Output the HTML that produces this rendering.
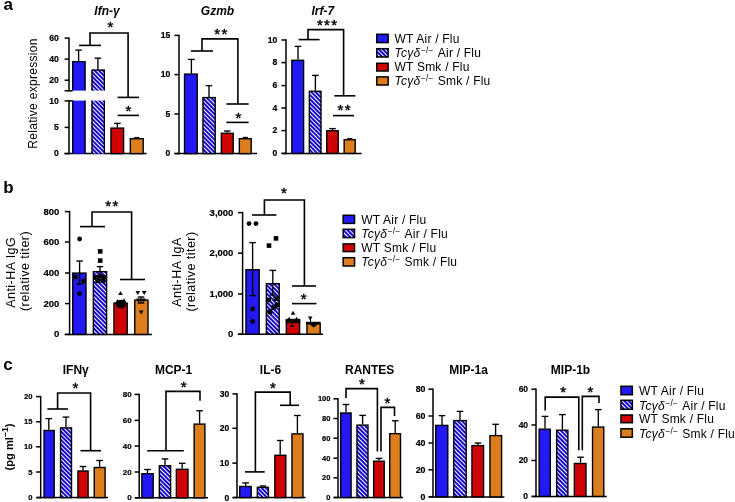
<!DOCTYPE html>
<html><head><meta charset="utf-8"><title>Figure</title>
<style>
html,body{margin:0;padding:0;background:#fff;}
body{width:735px;height:502px;overflow:hidden;}
svg{display:block;font-family:"Liberation Sans", sans-serif;will-change:transform;}
text{fill:#000;}
</style></head>
<body>
<svg width="735" height="502" viewBox="0 0 735 502">
<defs>
<pattern id="hatch" patternUnits="userSpaceOnUse" width="3" height="3" patternTransform="rotate(-45)">
<rect width="3" height="3" fill="#1608cc"/>
<rect x="0" y="0" width="1" height="3" fill="#fff"/>
</pattern>
</defs>
<rect width="735" height="502" fill="#fff"/>
<text x="3.4" y="10.3" font-size="17" font-weight="bold" font-style="normal" text-anchor="start" >a</text>
<text x="3.2" y="192.6" font-size="17" font-weight="bold" font-style="normal" text-anchor="start" >b</text>
<text x="3.2" y="369.6" font-size="17" font-weight="bold" font-style="normal" text-anchor="start" >c</text>
<text x="107" y="14.7" font-size="12" font-weight="bold" font-style="italic" text-anchor="middle" >Ifn-γ</text>
<text transform="translate(36.8,93.5) rotate(-90)" font-size="12" font-weight="normal" text-anchor="middle" letter-spacing="0.3">Relative expression</text>
<line x1="69" y1="37.4" x2="69" y2="91.5" stroke="#000" stroke-width="1.5"/>
<line x1="64.6" y1="38.1" x2="69" y2="38.1" stroke="#000" stroke-width="1.5"/>
<text x="58.8" y="40.98" font-size="8.6" font-weight="bold" font-style="normal" text-anchor="end" stroke="#000" stroke-width="0.2">60</text>
<line x1="64.6" y1="59.1" x2="69" y2="59.1" stroke="#000" stroke-width="1.5"/>
<text x="58.8" y="61.98" font-size="8.6" font-weight="bold" font-style="normal" text-anchor="end" stroke="#000" stroke-width="0.2">40</text>
<line x1="64.6" y1="80.2" x2="69" y2="80.2" stroke="#000" stroke-width="1.5"/>
<text x="58.8" y="83.08" font-size="8.6" font-weight="bold" font-style="normal" text-anchor="end" stroke="#000" stroke-width="0.2">20</text>
<line x1="64.6" y1="90.8" x2="72.6" y2="90.8" stroke="#000" stroke-width="1.5"/>
<line x1="69" y1="100.2" x2="69" y2="154.3" stroke="#000" stroke-width="1.5"/>
<line x1="64.6" y1="100.9" x2="72.6" y2="100.9" stroke="#000" stroke-width="1.5"/>
<text x="58.8" y="103.78" font-size="8.6" font-weight="bold" font-style="normal" text-anchor="end" stroke="#000" stroke-width="0.2">10</text>
<line x1="64.6" y1="127.4" x2="69" y2="127.4" stroke="#000" stroke-width="1.5"/>
<text x="58.8" y="130.28" font-size="8.6" font-weight="bold" font-style="normal" text-anchor="end" stroke="#000" stroke-width="0.2">5</text>
<line x1="64.6" y1="153.6" x2="69" y2="153.6" stroke="#000" stroke-width="1.5"/>
<text x="58.8" y="156.48" font-size="8.6" font-weight="bold" font-style="normal" text-anchor="end" stroke="#000" stroke-width="0.2">0</text>
<line x1="64.6" y1="153.6" x2="146.5" y2="153.6" stroke="#000" stroke-width="1.5"/>
<rect x="72" y="61" width="13.6" height="29.6" fill="#2219f4"/>
<rect x="72" y="100.6" width="13.6" height="53" fill="#2219f4"/>
<path d="M72.65,90.6 V61.65 H84.95 V90.6 M72.65,100.6 V153.6 M84.95,100.6 V153.6" fill="none" stroke="#000" stroke-width="1.3"/>
<rect x="91.4" y="69.4" width="13.6" height="21.2" fill="url(#hatch)"/>
<rect x="91.4" y="100.6" width="13.6" height="53" fill="url(#hatch)"/>
<path d="M92.05,90.6 V70.05 H104.35 V90.6 M92.05,100.6 V153.6 M104.35,100.6 V153.6" fill="none" stroke="#000" stroke-width="1.3"/>
<rect x="110.95" y="128.1" width="12.65" height="25.5" fill="#cf0303" stroke="#000" stroke-width="1.4"/>
<rect x="130.35" y="138.7" width="12.85" height="14.9" fill="#dc7d1e" stroke="#000" stroke-width="1.4"/>
<line x1="78.6" y1="50.1" x2="78.6" y2="61" stroke="#000" stroke-width="1.35"/>
<line x1="75.3" y1="50.1" x2="81.9" y2="50.1" stroke="#000" stroke-width="1.35"/>
<line x1="97.9" y1="58.2" x2="97.9" y2="69.4" stroke="#000" stroke-width="1.35"/>
<line x1="94.6" y1="58.2" x2="101.2" y2="58.2" stroke="#000" stroke-width="1.35"/>
<line x1="117.4" y1="123.4" x2="117.4" y2="127.4" stroke="#000" stroke-width="1.35"/>
<line x1="114.1" y1="123.4" x2="120.7" y2="123.4" stroke="#000" stroke-width="1.35"/>
<line x1="136.8" y1="137.6" x2="136.8" y2="138" stroke="#000" stroke-width="1.35"/>
<line x1="134.3" y1="137.6" x2="139.3" y2="137.6" stroke="#000" stroke-width="1.35"/>
<polyline points="79.1,45.4 101,45.4" fill="none" stroke="#000" stroke-width="1.6" stroke-linejoin="miter" stroke-linecap="butt"/>
<polyline points="90,45.4 90,33 128.1,33 128.1,97.4" fill="none" stroke="#000" stroke-width="1.6" stroke-linejoin="miter" stroke-linecap="butt"/>
<polyline points="117.6,97.4 139,97.4" fill="none" stroke="#000" stroke-width="1.6" stroke-linejoin="miter" stroke-linecap="butt"/>
<text x="110.3" y="32.38" font-size="15" text-anchor="middle" stroke="#000" stroke-width="0.45">*</text>
<polyline points="117.6,115.4 139,115.4" fill="none" stroke="#000" stroke-width="1.6" stroke-linejoin="miter" stroke-linecap="butt"/>
<text x="128.5" y="115.67" font-size="15" text-anchor="middle" stroke="#000" stroke-width="0.45">*</text>
<text x="217.5" y="14.7" font-size="12" font-weight="bold" font-style="italic" text-anchor="middle" >Gzmb</text>
<line x1="179" y1="34.65" x2="179" y2="154.35" stroke="#000" stroke-width="1.5"/>
<line x1="174.4" y1="35.4" x2="179" y2="35.4" stroke="#000" stroke-width="1.5"/>
<text x="170.3" y="38.28" font-size="8.6" font-weight="bold" font-style="normal" text-anchor="end"  stroke="#000" stroke-width="0.2">15</text>
<line x1="174.4" y1="74.6" x2="179" y2="74.6" stroke="#000" stroke-width="1.5"/>
<text x="170.3" y="77.48" font-size="8.6" font-weight="bold" font-style="normal" text-anchor="end"  stroke="#000" stroke-width="0.2">10</text>
<line x1="174.4" y1="114" x2="179" y2="114" stroke="#000" stroke-width="1.5"/>
<text x="170.3" y="116.88" font-size="8.6" font-weight="bold" font-style="normal" text-anchor="end"  stroke="#000" stroke-width="0.2">5</text>
<line x1="174.4" y1="153.6" x2="179" y2="153.6" stroke="#000" stroke-width="1.5"/>
<text x="170.3" y="156.48" font-size="8.6" font-weight="bold" font-style="normal" text-anchor="end"  stroke="#000" stroke-width="0.2">0</text>
<line x1="174.4" y1="153.6" x2="257" y2="153.6" stroke="#000" stroke-width="1.5"/>
<rect x="184.55" y="74.1" width="12.65" height="79.5" fill="#2219f4" stroke="#000" stroke-width="1.4"/>
<rect x="202.95" y="97.6" width="12.25" height="56" fill="url(#hatch)" stroke="#000" stroke-width="1.4"/>
<rect x="221.35" y="133.3" width="11.85" height="20.3" fill="#cf0303" stroke="#000" stroke-width="1.4"/>
<rect x="239.35" y="138.7" width="11.85" height="14.9" fill="#dc7d1e" stroke="#000" stroke-width="1.4"/>
<line x1="191.4" y1="59.4" x2="191.4" y2="73.6" stroke="#000" stroke-width="1.35"/>
<line x1="188.1" y1="59.4" x2="194.7" y2="59.4" stroke="#000" stroke-width="1.35"/>
<line x1="209" y1="85.6" x2="209" y2="96.9" stroke="#000" stroke-width="1.35"/>
<line x1="205.7" y1="85.6" x2="212.3" y2="85.6" stroke="#000" stroke-width="1.35"/>
<line x1="227.3" y1="131" x2="227.3" y2="132.6" stroke="#000" stroke-width="1.35"/>
<line x1="224" y1="131" x2="230.6" y2="131" stroke="#000" stroke-width="1.35"/>
<line x1="245.3" y1="137.5" x2="245.3" y2="138" stroke="#000" stroke-width="1.35"/>
<line x1="242.8" y1="137.5" x2="247.8" y2="137.5" stroke="#000" stroke-width="1.35"/>
<polyline points="191,51 213,51" fill="none" stroke="#000" stroke-width="1.6" stroke-linejoin="miter" stroke-linecap="butt"/>
<polyline points="202,51 202,38.9 237.9,38.9 237.9,104" fill="none" stroke="#000" stroke-width="1.6" stroke-linejoin="miter" stroke-linecap="butt"/>
<polyline points="226.4,104 248.6,104" fill="none" stroke="#000" stroke-width="1.6" stroke-linejoin="miter" stroke-linecap="butt"/>
<text x="217.1" y="39.47" font-size="15" text-anchor="middle" stroke="#000" stroke-width="0.45">*</text>
<text x="224.3" y="39.47" font-size="15" text-anchor="middle" stroke="#000" stroke-width="0.45">*</text>
<polyline points="226.4,122.4 248.6,122.4" fill="none" stroke="#000" stroke-width="1.6" stroke-linejoin="miter" stroke-linecap="butt"/>
<text x="238.3" y="122.67" font-size="15" text-anchor="middle" stroke="#000" stroke-width="0.45">*</text>
<text x="322.8" y="14.7" font-size="12" font-weight="bold" font-style="italic" text-anchor="middle" >Irf-7</text>
<line x1="286" y1="39.25" x2="286" y2="154.15" stroke="#000" stroke-width="1.5"/>
<line x1="281.4" y1="40" x2="286" y2="40" stroke="#000" stroke-width="1.5"/>
<text x="277.3" y="42.88" font-size="8.6" font-weight="bold" font-style="normal" text-anchor="end"  stroke="#000" stroke-width="0.2">10</text>
<line x1="281.4" y1="62.6" x2="286" y2="62.6" stroke="#000" stroke-width="1.5"/>
<text x="277.3" y="65.48" font-size="8.6" font-weight="bold" font-style="normal" text-anchor="end"  stroke="#000" stroke-width="0.2">8</text>
<line x1="281.4" y1="85.6" x2="286" y2="85.6" stroke="#000" stroke-width="1.5"/>
<text x="277.3" y="88.48" font-size="8.6" font-weight="bold" font-style="normal" text-anchor="end"  stroke="#000" stroke-width="0.2">6</text>
<line x1="281.4" y1="108" x2="286" y2="108" stroke="#000" stroke-width="1.5"/>
<text x="277.3" y="110.88" font-size="8.6" font-weight="bold" font-style="normal" text-anchor="end"  stroke="#000" stroke-width="0.2">4</text>
<line x1="281.4" y1="130.6" x2="286" y2="130.6" stroke="#000" stroke-width="1.5"/>
<text x="277.3" y="133.48" font-size="8.6" font-weight="bold" font-style="normal" text-anchor="end"  stroke="#000" stroke-width="0.2">2</text>
<line x1="281.4" y1="153.4" x2="286" y2="153.4" stroke="#000" stroke-width="1.5"/>
<text x="277.3" y="156.28" font-size="8.6" font-weight="bold" font-style="normal" text-anchor="end"  stroke="#000" stroke-width="0.2">0</text>
<line x1="281.6" y1="153.4" x2="361.6" y2="153.4" stroke="#000" stroke-width="1.5"/>
<rect x="291.85" y="60.3" width="11.75" height="93.1" fill="#2219f4" stroke="#000" stroke-width="1.4"/>
<rect x="309.35" y="91.3" width="11.65" height="62.1" fill="url(#hatch)" stroke="#000" stroke-width="1.4"/>
<rect x="326.75" y="130.7" width="11.45" height="22.7" fill="#cf0303" stroke="#000" stroke-width="1.4"/>
<rect x="344.15" y="139.7" width="11.05" height="13.7" fill="#dc7d1e" stroke="#000" stroke-width="1.4"/>
<line x1="298" y1="46.4" x2="298" y2="59.6" stroke="#000" stroke-width="1.35"/>
<line x1="294.7" y1="46.4" x2="301.3" y2="46.4" stroke="#000" stroke-width="1.35"/>
<line x1="315.4" y1="75.4" x2="315.4" y2="90.6" stroke="#000" stroke-width="1.35"/>
<line x1="312.1" y1="75.4" x2="318.7" y2="75.4" stroke="#000" stroke-width="1.35"/>
<line x1="332.5" y1="128.6" x2="332.5" y2="130" stroke="#000" stroke-width="1.35"/>
<line x1="329.2" y1="128.6" x2="335.8" y2="128.6" stroke="#000" stroke-width="1.35"/>
<line x1="349.8" y1="138.6" x2="349.8" y2="139" stroke="#000" stroke-width="1.35"/>
<line x1="347.3" y1="138.6" x2="352.3" y2="138.6" stroke="#000" stroke-width="1.35"/>
<polyline points="298.6,39.6 319.6,39.6" fill="none" stroke="#000" stroke-width="1.6" stroke-linejoin="miter" stroke-linecap="butt"/>
<polyline points="308,39.6 308,29.6 343.6,29.6 343.6,95.8" fill="none" stroke="#000" stroke-width="1.6" stroke-linejoin="miter" stroke-linecap="butt"/>
<polyline points="334.4,95.8 355.4,95.8" fill="none" stroke="#000" stroke-width="1.6" stroke-linejoin="miter" stroke-linecap="butt"/>
<text x="319.8" y="29.98" font-size="15" text-anchor="middle" stroke="#000" stroke-width="0.45">*</text>
<text x="327" y="29.98" font-size="15" text-anchor="middle" stroke="#000" stroke-width="0.45">*</text>
<text x="334.2" y="29.98" font-size="15" text-anchor="middle" stroke="#000" stroke-width="0.45">*</text>
<polyline points="333,115.6 354,115.6" fill="none" stroke="#000" stroke-width="1.6" stroke-linejoin="miter" stroke-linecap="butt"/>
<text x="340.4" y="115.27" font-size="15" text-anchor="middle" stroke="#000" stroke-width="0.45">*</text>
<text x="347.6" y="115.27" font-size="15" text-anchor="middle" stroke="#000" stroke-width="0.45">*</text>
<rect x="376.75" y="34.3" width="11.4" height="8.3" fill="#2219f4" stroke="#000" stroke-width="1.5"/>
<text x="394.5" y="42.9" font-size="12" font-weight="normal" font-style="normal" text-anchor="start" letter-spacing="0.22">WT Air / Flu</text>
<rect x="376.75" y="48.7" width="11.4" height="8.3" fill="url(#hatch)" stroke="#000" stroke-width="1.5"/>
<text x="394.5" y="57.3" font-size="12" font-weight="normal" font-style="normal" text-anchor="start" letter-spacing="0.22"><tspan font-style="italic">Tcγδ</tspan><tspan font-size="8.4" dy="-4" dx="0.6">−/−</tspan><tspan dy="4" dx="0.6"> Air / Flu</tspan></text>
<rect x="376.75" y="63.3" width="11.4" height="7.7" fill="#cf0303" stroke="#000" stroke-width="1.5"/>
<text x="394.5" y="71.3" font-size="12" font-weight="normal" font-style="normal" text-anchor="start" letter-spacing="0.22">WT Smk / Flu</text>
<rect x="376.75" y="76.9" width="11.4" height="8.1" fill="#dc7d1e" stroke="#000" stroke-width="1.5"/>
<text x="394.5" y="85.3" font-size="12" font-weight="normal" font-style="normal" text-anchor="start" letter-spacing="0.22"><tspan font-style="italic">Tcγδ</tspan><tspan font-size="8.4" dy="-4" dx="0.6">−/−</tspan><tspan dy="4" dx="0.6"> Smk / Flu</tspan></text>
<text transform="translate(14.8,272.3) rotate(-90)" font-size="12.5" font-weight="normal" text-anchor="middle" letter-spacing="0.45">Anti-HA IgG</text>
<text transform="translate(28.9,271) rotate(-90)" font-size="12.5" font-weight="normal" text-anchor="middle" letter-spacing="0.45">(relative titer)</text>
<line x1="69.6" y1="210.85" x2="69.6" y2="335.15" stroke="#000" stroke-width="1.5"/>
<line x1="65" y1="211.6" x2="69.6" y2="211.6" stroke="#000" stroke-width="1.5"/>
<text x="59.4" y="214.5" font-size="9.5" font-weight="bold" font-style="normal" text-anchor="end"  stroke="#000" stroke-width="0.2">800</text>
<line x1="65" y1="242" x2="69.6" y2="242" stroke="#000" stroke-width="1.5"/>
<text x="59.4" y="244.9" font-size="9.5" font-weight="bold" font-style="normal" text-anchor="end"  stroke="#000" stroke-width="0.2">600</text>
<line x1="65" y1="273" x2="69.6" y2="273" stroke="#000" stroke-width="1.5"/>
<text x="59.4" y="275.9" font-size="9.5" font-weight="bold" font-style="normal" text-anchor="end"  stroke="#000" stroke-width="0.2">400</text>
<line x1="65" y1="303.6" x2="69.6" y2="303.6" stroke="#000" stroke-width="1.5"/>
<text x="59.4" y="306.5" font-size="9.5" font-weight="bold" font-style="normal" text-anchor="end"  stroke="#000" stroke-width="0.2">200</text>
<line x1="65" y1="334.4" x2="69.6" y2="334.4" stroke="#000" stroke-width="1.5"/>
<text x="59.4" y="337.3" font-size="9.5" font-weight="bold" font-style="normal" text-anchor="end"  stroke="#000" stroke-width="0.2">0</text>
<line x1="64.6" y1="334.4" x2="152" y2="334.4" stroke="#000" stroke-width="1.5"/>
<rect x="72.75" y="273.1" width="13.25" height="61.3" fill="#2219f4" stroke="#000" stroke-width="1.4"/>
<rect x="93.35" y="271.7" width="13.25" height="62.7" fill="url(#hatch)" stroke="#000" stroke-width="1.4"/>
<rect x="113.95" y="303.1" width="13.25" height="31.3" fill="#cf0303" stroke="#000" stroke-width="1.4"/>
<rect x="134.75" y="300.1" width="13.25" height="34.3" fill="#dc7d1e" stroke="#000" stroke-width="1.4"/>
<line x1="79.6" y1="261" x2="79.6" y2="284" stroke="#000" stroke-width="1.35"/>
<line x1="76.3" y1="261" x2="82.9" y2="261" stroke="#000" stroke-width="1.35"/>
<line x1="76.3" y1="284" x2="82.9" y2="284" stroke="#000" stroke-width="1.35"/>
<line x1="100" y1="266.6" x2="100" y2="276" stroke="#000" stroke-width="1.35"/>
<line x1="96.7" y1="266.6" x2="103.3" y2="266.6" stroke="#000" stroke-width="1.35"/>
<line x1="96.7" y1="276" x2="103.3" y2="276" stroke="#000" stroke-width="1.35"/>
<line x1="141" y1="297" x2="141" y2="303" stroke="#000" stroke-width="1.35"/>
<line x1="137.7" y1="297" x2="144.3" y2="297" stroke="#000" stroke-width="1.35"/>
<line x1="137.7" y1="303" x2="144.3" y2="303" stroke="#000" stroke-width="1.35"/>
<polyline points="80,226.6 105,226.6" fill="none" stroke="#000" stroke-width="1.6" stroke-linejoin="miter" stroke-linecap="butt"/>
<polyline points="92,226.6 92,212 131.6,212 131.6,279.5" fill="none" stroke="#000" stroke-width="1.6" stroke-linejoin="miter" stroke-linecap="butt"/>
<polyline points="120,279.5 145,279.5" fill="none" stroke="#000" stroke-width="1.6" stroke-linejoin="miter" stroke-linecap="butt"/>
<text x="108.1" y="210.88" font-size="15" text-anchor="middle" stroke="#000" stroke-width="0.45">*</text>
<text x="115.3" y="210.88" font-size="15" text-anchor="middle" stroke="#000" stroke-width="0.45">*</text>
<text transform="translate(180.7,272) rotate(-90)" font-size="12.5" font-weight="normal" text-anchor="middle" letter-spacing="0.45">Anti-HA IgA</text>
<text transform="translate(195.2,271.5) rotate(-90)" font-size="12.5" font-weight="normal" text-anchor="middle" letter-spacing="0.45">(relative titer)</text>
<line x1="242.6" y1="211.85" x2="242.6" y2="334.95" stroke="#000" stroke-width="1.5"/>
<line x1="238" y1="212.6" x2="242.6" y2="212.6" stroke="#000" stroke-width="1.5"/>
<text x="233.4" y="215.5" font-size="9.5" font-weight="bold" font-style="normal" text-anchor="end"  stroke="#000" stroke-width="0.2">3,000</text>
<line x1="238" y1="253.2" x2="242.6" y2="253.2" stroke="#000" stroke-width="1.5"/>
<text x="233.4" y="256.1" font-size="9.5" font-weight="bold" font-style="normal" text-anchor="end"  stroke="#000" stroke-width="0.2">2,000</text>
<line x1="238" y1="294" x2="242.6" y2="294" stroke="#000" stroke-width="1.5"/>
<text x="233.4" y="296.9" font-size="9.5" font-weight="bold" font-style="normal" text-anchor="end"  stroke="#000" stroke-width="0.2">1,000</text>
<line x1="238" y1="334.2" x2="242.6" y2="334.2" stroke="#000" stroke-width="1.5"/>
<text x="233.4" y="337.1" font-size="9.5" font-weight="bold" font-style="normal" text-anchor="end"  stroke="#000" stroke-width="0.2">0</text>
<line x1="237.8" y1="334.2" x2="323" y2="334.2" stroke="#000" stroke-width="1.5"/>
<rect x="245.95" y="269.7" width="13.25" height="64.5" fill="#2219f4" stroke="#000" stroke-width="1.4"/>
<rect x="266.35" y="283.7" width="12.85" height="50.5" fill="url(#hatch)" stroke="#000" stroke-width="1.4"/>
<rect x="286.35" y="320.1" width="13.25" height="14.1" fill="#cf0303" stroke="#000" stroke-width="1.4"/>
<rect x="306.95" y="323.3" width="13.25" height="10.9" fill="#dc7d1e" stroke="#000" stroke-width="1.4"/>
<line x1="252.6" y1="242.6" x2="252.6" y2="295.6" stroke="#000" stroke-width="1.35"/>
<line x1="249.3" y1="242.6" x2="255.9" y2="242.6" stroke="#000" stroke-width="1.35"/>
<line x1="249.3" y1="295.6" x2="255.9" y2="295.6" stroke="#000" stroke-width="1.35"/>
<line x1="272.8" y1="270.4" x2="272.8" y2="295" stroke="#000" stroke-width="1.35"/>
<line x1="269.5" y1="270.4" x2="276.1" y2="270.4" stroke="#000" stroke-width="1.35"/>
<line x1="269.5" y1="295" x2="276.1" y2="295" stroke="#000" stroke-width="1.35"/>
<line x1="310.6" y1="319" x2="310.6" y2="322.5" stroke="#000" stroke-width="1"/>
<polyline points="252,215 276.4,215" fill="none" stroke="#000" stroke-width="1.6" stroke-linejoin="miter" stroke-linecap="butt"/>
<polyline points="264.4,215 264.4,200 304.4,200 304.4,286" fill="none" stroke="#000" stroke-width="1.6" stroke-linejoin="miter" stroke-linecap="butt"/>
<polyline points="292,286 316,286" fill="none" stroke="#000" stroke-width="1.6" stroke-linejoin="miter" stroke-linecap="butt"/>
<text x="284" y="197.68" font-size="15" text-anchor="middle" stroke="#000" stroke-width="0.45">*</text>
<polyline points="292,303.6 316.4,303.6" fill="none" stroke="#000" stroke-width="1.6" stroke-linejoin="miter" stroke-linecap="butt"/>
<text x="303.7" y="303.68" font-size="15" text-anchor="middle" stroke="#000" stroke-width="0.45">*</text>
<rect x="343.15" y="215.3" width="11.4" height="8.1" fill="#2219f4" stroke="#000" stroke-width="1.5"/>
<text x="361.3" y="223.7" font-size="12" font-weight="normal" font-style="normal" text-anchor="start" letter-spacing="0.22">WT Air / Flu</text>
<rect x="343.15" y="229.3" width="11.4" height="8.3" fill="url(#hatch)" stroke="#000" stroke-width="1.5"/>
<text x="361.3" y="237.9" font-size="12" font-weight="normal" font-style="normal" text-anchor="start" letter-spacing="0.22"><tspan font-style="italic">Tcγδ</tspan><tspan font-size="8.4" dy="-4" dx="0.6">−/−</tspan><tspan dy="4" dx="0.6"> Air / Flu</tspan></text>
<rect x="343.15" y="243.9" width="11.4" height="7.7" fill="#cf0303" stroke="#000" stroke-width="1.5"/>
<text x="361.3" y="251.9" font-size="12" font-weight="normal" font-style="normal" text-anchor="start" letter-spacing="0.22">WT Smk / Flu</text>
<rect x="343.15" y="257.7" width="11.4" height="8.3" fill="#dc7d1e" stroke="#000" stroke-width="1.5"/>
<text x="361.3" y="266.3" font-size="12" font-weight="normal" font-style="normal" text-anchor="start" letter-spacing="0.22"><tspan font-style="italic">Tcγδ</tspan><tspan font-size="8.4" dy="-4" dx="0.6">−/−</tspan><tspan dy="4" dx="0.6"> Smk / Flu</tspan></text>
<circle cx="79.6" cy="239" r="2.4" fill="#000"/>
<circle cx="75.6" cy="277" r="2.4" fill="#000"/>
<circle cx="83.6" cy="281" r="2.4" fill="#000"/>
<circle cx="79.6" cy="293.6" r="2.4" fill="#000"/>
<rect x="97.9" y="249.1" width="4.6" height="4.6" fill="#000"/>
<rect x="97.9" y="258.3" width="4.6" height="4.6" fill="#000"/>
<rect x="93.7" y="275.2" width="4.6" height="4.6" fill="#000"/>
<rect x="97.9" y="273.9" width="4.6" height="4.6" fill="#000"/>
<rect x="102.1" y="275.2" width="4.6" height="4.6" fill="#000"/>
<rect x="95.3" y="278.5" width="4.6" height="4.6" fill="#000"/>
<rect x="100.5" y="278.5" width="4.6" height="4.6" fill="#000"/>
<ellipse cx="121" cy="304.2" rx="5" ry="4.4" fill="#000"/>
<polygon points="120.5,291.1 118.2,295.1 122.8,295.1" fill="#000"/>
<polygon points="124,298.2 121.7,302.2 126.3,302.2" fill="#000"/>
<polygon points="117.5,299.1 115.2,303.1 119.8,303.1" fill="#000"/>
<polygon points="137.8,295 135.5,291 140.1,291" fill="#000"/>
<polygon points="144.2,295 141.9,291 146.5,291" fill="#000"/>
<polygon points="141.2,314.5 138.9,310.5 143.5,310.5" fill="#000"/>
<polygon points="138.6,302.4 136.3,298.4 140.9,298.4" fill="#000"/>
<polygon points="143.6,302.4 141.3,298.4 145.9,298.4" fill="#000"/>
<circle cx="249" cy="223.6" r="2.4" fill="#000"/>
<circle cx="256" cy="223.6" r="2.4" fill="#000"/>
<circle cx="252.6" cy="309" r="2.4" fill="#000"/>
<circle cx="252.6" cy="321.4" r="2.4" fill="#000"/>
<rect x="266.7" y="243.3" width="4.6" height="4.6" fill="#000"/>
<rect x="273.7" y="236.1" width="4.6" height="4.6" fill="#000"/>
<rect x="266.4" y="297.7" width="4.6" height="4.6" fill="#000"/>
<rect x="273.6" y="296.4" width="4.6" height="4.6" fill="#000"/>
<rect x="274.7" y="302.4" width="4.6" height="4.6" fill="#000"/>
<rect x="271.2" y="305.2" width="4.6" height="4.6" fill="#000"/>
<rect x="267.6" y="309.6" width="4.6" height="4.6" fill="#000"/>
<rect x="285.8" y="318.8" width="14.4" height="4.3" fill="#000"/>
<polygon points="293,310.8 290.7,314.8 295.3,314.8" fill="#000"/>
<polygon points="289.2,316.8 286.9,320.8 291.5,320.8" fill="#000"/>
<polygon points="296.6,316.8 294.3,320.8 298.9,320.8" fill="#000"/>
<line x1="292.2" y1="322" x2="292.2" y2="326.6" stroke="#000" stroke-width="1.3"/>
<line x1="290.4" y1="326.2" x2="294" y2="326.2" stroke="#000" stroke-width="1.2"/>
<rect x="306" y="321.8" width="14.4" height="2.6" fill="#000"/>
<polygon points="308.2,323.5 319,323.5 313.7,327.6" fill="#000"/>
<polygon points="310.2,320.4 307.9,316.4 312.5,316.4" fill="#000"/>
<text transform="translate(13.2,447.1) rotate(-90)" font-size="11.2" font-weight="bold" text-anchor="middle" >(pg ml<tspan font-size="8.5" dy="-5">−1</tspan><tspan dy="5">)</tspan></text>
<text x="75.8" y="374.4" font-size="12" font-weight="bold" font-style="normal" text-anchor="middle" >IFNγ</text>
<line x1="40.7" y1="395.85" x2="40.7" y2="498.35" stroke="#000" stroke-width="1.5"/>
<line x1="36.1" y1="396.6" x2="40.7" y2="396.6" stroke="#000" stroke-width="1.5"/>
<text x="32.5" y="399.12" font-size="7.6" font-weight="bold" font-style="normal" text-anchor="end"  stroke="#000" stroke-width="0.2">20</text>
<line x1="36.1" y1="421.8" x2="40.7" y2="421.8" stroke="#000" stroke-width="1.5"/>
<text x="32.5" y="424.32" font-size="7.6" font-weight="bold" font-style="normal" text-anchor="end"  stroke="#000" stroke-width="0.2">15</text>
<line x1="36.1" y1="446.8" x2="40.7" y2="446.8" stroke="#000" stroke-width="1.5"/>
<text x="32.5" y="449.32" font-size="7.6" font-weight="bold" font-style="normal" text-anchor="end"  stroke="#000" stroke-width="0.2">10</text>
<line x1="36.1" y1="472" x2="40.7" y2="472" stroke="#000" stroke-width="1.5"/>
<text x="32.5" y="474.52" font-size="7.6" font-weight="bold" font-style="normal" text-anchor="end"  stroke="#000" stroke-width="0.2">5</text>
<line x1="36.1" y1="497.6" x2="40.7" y2="497.6" stroke="#000" stroke-width="1.5"/>
<text x="32.5" y="500.12" font-size="7.6" font-weight="bold" font-style="normal" text-anchor="end"  stroke="#000" stroke-width="0.2">0</text>
<line x1="36.8" y1="497.6" x2="108" y2="497.6" stroke="#000" stroke-width="1.5"/>
<rect x="44.05" y="430.5" width="10.15" height="67.1" fill="#2219f4" stroke="#000" stroke-width="1.4"/>
<rect x="60.55" y="427.9" width="10.95" height="69.7" fill="url(#hatch)" stroke="#000" stroke-width="1.4"/>
<rect x="77.95" y="471" width="10.15" height="26.6" fill="#cf0303" stroke="#000" stroke-width="1.4"/>
<rect x="94.25" y="467.5" width="10.85" height="30.1" fill="#dc7d1e" stroke="#000" stroke-width="1.4"/>
<line x1="48.8" y1="418.6" x2="48.8" y2="429.8" stroke="#000" stroke-width="1.35"/>
<line x1="45.5" y1="418.6" x2="52.1" y2="418.6" stroke="#000" stroke-width="1.35"/>
<line x1="66" y1="417.1" x2="66" y2="427.2" stroke="#000" stroke-width="1.35"/>
<line x1="62.7" y1="417.1" x2="69.3" y2="417.1" stroke="#000" stroke-width="1.35"/>
<line x1="83" y1="466.5" x2="83" y2="470.3" stroke="#000" stroke-width="1.35"/>
<line x1="79.7" y1="466.5" x2="86.3" y2="466.5" stroke="#000" stroke-width="1.35"/>
<line x1="99.6" y1="460.5" x2="99.6" y2="466.8" stroke="#000" stroke-width="1.35"/>
<line x1="96.3" y1="460.5" x2="102.9" y2="460.5" stroke="#000" stroke-width="1.35"/>
<polyline points="47.4,409 68,409" fill="none" stroke="#000" stroke-width="1.6" stroke-linejoin="miter" stroke-linecap="butt"/>
<polyline points="57.6,409 57.6,393 90.6,393 90.6,450.7" fill="none" stroke="#000" stroke-width="1.6" stroke-linejoin="miter" stroke-linecap="butt"/>
<polyline points="80.5,450.7 101,450.7" fill="none" stroke="#000" stroke-width="1.6" stroke-linejoin="miter" stroke-linecap="butt"/>
<text x="75.5" y="393.18" font-size="15" text-anchor="middle" stroke="#000" stroke-width="0.45">*</text>
<text x="173.6" y="374.4" font-size="12" font-weight="bold" font-style="normal" text-anchor="middle" >MCP-1</text>
<line x1="139.2" y1="393.65" x2="139.2" y2="498.55" stroke="#000" stroke-width="1.5"/>
<line x1="134.6" y1="394.4" x2="139.2" y2="394.4" stroke="#000" stroke-width="1.5"/>
<text x="131.6" y="396.96" font-size="8" font-weight="bold" font-style="normal" text-anchor="end"  stroke="#000" stroke-width="0.2">80</text>
<line x1="134.6" y1="420.4" x2="139.2" y2="420.4" stroke="#000" stroke-width="1.5"/>
<text x="131.6" y="422.96" font-size="8" font-weight="bold" font-style="normal" text-anchor="end"  stroke="#000" stroke-width="0.2">60</text>
<line x1="134.6" y1="446" x2="139.2" y2="446" stroke="#000" stroke-width="1.5"/>
<text x="131.6" y="448.56" font-size="8" font-weight="bold" font-style="normal" text-anchor="end"  stroke="#000" stroke-width="0.2">40</text>
<line x1="134.6" y1="472" x2="139.2" y2="472" stroke="#000" stroke-width="1.5"/>
<text x="131.6" y="474.56" font-size="8" font-weight="bold" font-style="normal" text-anchor="end"  stroke="#000" stroke-width="0.2">20</text>
<line x1="134.6" y1="497.8" x2="139.2" y2="497.8" stroke="#000" stroke-width="1.5"/>
<text x="131.6" y="500.36" font-size="8" font-weight="bold" font-style="normal" text-anchor="end"  stroke="#000" stroke-width="0.2">0</text>
<line x1="135.3" y1="497.8" x2="208" y2="497.8" stroke="#000" stroke-width="1.5"/>
<rect x="141.85" y="473.7" width="11.35" height="24.1" fill="#2219f4" stroke="#000" stroke-width="1.4"/>
<rect x="159.35" y="465.7" width="11.25" height="32.1" fill="url(#hatch)" stroke="#000" stroke-width="1.4"/>
<rect x="176.35" y="469.3" width="11.65" height="28.5" fill="#cf0303" stroke="#000" stroke-width="1.4"/>
<rect x="194.15" y="424.1" width="10.75" height="73.7" fill="#dc7d1e" stroke="#000" stroke-width="1.4"/>
<line x1="147.5" y1="469.5" x2="147.5" y2="473" stroke="#000" stroke-width="1.35"/>
<line x1="144.2" y1="469.5" x2="150.8" y2="469.5" stroke="#000" stroke-width="1.35"/>
<line x1="165" y1="458.9" x2="165" y2="465" stroke="#000" stroke-width="1.35"/>
<line x1="161.7" y1="458.9" x2="168.3" y2="458.9" stroke="#000" stroke-width="1.35"/>
<line x1="182.2" y1="463.3" x2="182.2" y2="468.6" stroke="#000" stroke-width="1.35"/>
<line x1="178.9" y1="463.3" x2="185.5" y2="463.3" stroke="#000" stroke-width="1.35"/>
<line x1="199.6" y1="410.8" x2="199.6" y2="423.4" stroke="#000" stroke-width="1.35"/>
<line x1="196.3" y1="410.8" x2="202.9" y2="410.8" stroke="#000" stroke-width="1.35"/>
<polyline points="147.2,450.7 183.8,450.7" fill="none" stroke="#000" stroke-width="1.6" stroke-linejoin="miter" stroke-linecap="butt"/>
<polyline points="166,450.7 166,391.4 200,391.4 200,400.8" fill="none" stroke="#000" stroke-width="1.6" stroke-linejoin="miter" stroke-linecap="butt"/>
<text x="183.7" y="392.18" font-size="15" text-anchor="middle" stroke="#000" stroke-width="0.45">*</text>
<text x="270.5" y="374.4" font-size="12" font-weight="bold" font-style="normal" text-anchor="middle" >IL-6</text>
<line x1="237" y1="393.15" x2="237" y2="498.35" stroke="#000" stroke-width="1.5"/>
<line x1="232.4" y1="393.9" x2="237" y2="393.9" stroke="#000" stroke-width="1.5"/>
<text x="229.3" y="396.94" font-size="8.5" font-weight="bold" font-style="normal" text-anchor="end"  stroke="#000" stroke-width="0.2">30</text>
<line x1="232.4" y1="428.3" x2="237" y2="428.3" stroke="#000" stroke-width="1.5"/>
<text x="229.3" y="431.34" font-size="8.5" font-weight="bold" font-style="normal" text-anchor="end"  stroke="#000" stroke-width="0.2">20</text>
<line x1="232.4" y1="463.1" x2="237" y2="463.1" stroke="#000" stroke-width="1.5"/>
<text x="229.3" y="466.14" font-size="8.5" font-weight="bold" font-style="normal" text-anchor="end"  stroke="#000" stroke-width="0.2">10</text>
<line x1="232.4" y1="497.6" x2="237" y2="497.6" stroke="#000" stroke-width="1.5"/>
<text x="229.3" y="500.64" font-size="8.5" font-weight="bold" font-style="normal" text-anchor="end"  stroke="#000" stroke-width="0.2">0</text>
<line x1="232.9" y1="497.6" x2="305.5" y2="497.6" stroke="#000" stroke-width="1.5"/>
<rect x="239.75" y="486.5" width="11.45" height="11.1" fill="#2219f4" stroke="#000" stroke-width="1.4"/>
<rect x="257.35" y="487.3" width="11.05" height="10.3" fill="url(#hatch)" stroke="#000" stroke-width="1.4"/>
<rect x="274.85" y="455.3" width="10.95" height="42.3" fill="#cf0303" stroke="#000" stroke-width="1.4"/>
<rect x="291.95" y="433.9" width="11.05" height="63.7" fill="#dc7d1e" stroke="#000" stroke-width="1.4"/>
<line x1="245.6" y1="482.9" x2="245.6" y2="485.8" stroke="#000" stroke-width="1.35"/>
<line x1="242.3" y1="482.9" x2="248.9" y2="482.9" stroke="#000" stroke-width="1.35"/>
<line x1="262.9" y1="486" x2="262.9" y2="486.6" stroke="#000" stroke-width="1.35"/>
<line x1="259.6" y1="486" x2="266.2" y2="486" stroke="#000" stroke-width="1.35"/>
<line x1="280.2" y1="440.5" x2="280.2" y2="454.6" stroke="#000" stroke-width="1.35"/>
<line x1="276.9" y1="440.5" x2="283.5" y2="440.5" stroke="#000" stroke-width="1.35"/>
<line x1="297.4" y1="415.5" x2="297.4" y2="433.2" stroke="#000" stroke-width="1.35"/>
<line x1="294.1" y1="415.5" x2="300.7" y2="415.5" stroke="#000" stroke-width="1.35"/>
<polyline points="245,471.9 264.7,471.9" fill="none" stroke="#000" stroke-width="1.6" stroke-linejoin="miter" stroke-linecap="butt"/>
<polyline points="255.4,471.9 255.4,392.1 290.2,392.1 290.2,405.3" fill="none" stroke="#000" stroke-width="1.6" stroke-linejoin="miter" stroke-linecap="butt"/>
<polyline points="280,405.3 299,405.3" fill="none" stroke="#000" stroke-width="1.6" stroke-linejoin="miter" stroke-linecap="butt"/>
<text x="273" y="392.98" font-size="15" text-anchor="middle" stroke="#000" stroke-width="0.45">*</text>
<text x="369.7" y="374.4" font-size="12" font-weight="bold" font-style="normal" text-anchor="middle" >RANTES</text>
<line x1="338" y1="398.05" x2="338" y2="498.25" stroke="#000" stroke-width="1.5"/>
<line x1="333.4" y1="398.8" x2="338" y2="398.8" stroke="#000" stroke-width="1.5"/>
<text x="330.4" y="401.49" font-size="7.5" font-weight="bold" font-style="normal" text-anchor="end"  stroke="#000" stroke-width="0.2">100</text>
<line x1="333.4" y1="418.5" x2="338" y2="418.5" stroke="#000" stroke-width="1.5"/>
<text x="330.4" y="421.19" font-size="7.5" font-weight="bold" font-style="normal" text-anchor="end"  stroke="#000" stroke-width="0.2">80</text>
<line x1="333.4" y1="438.2" x2="338" y2="438.2" stroke="#000" stroke-width="1.5"/>
<text x="330.4" y="440.88" font-size="7.5" font-weight="bold" font-style="normal" text-anchor="end"  stroke="#000" stroke-width="0.2">60</text>
<line x1="333.4" y1="458.2" x2="338" y2="458.2" stroke="#000" stroke-width="1.5"/>
<text x="330.4" y="460.88" font-size="7.5" font-weight="bold" font-style="normal" text-anchor="end"  stroke="#000" stroke-width="0.2">40</text>
<line x1="333.4" y1="477.8" x2="338" y2="477.8" stroke="#000" stroke-width="1.5"/>
<text x="330.4" y="480.49" font-size="7.5" font-weight="bold" font-style="normal" text-anchor="end"  stroke="#000" stroke-width="0.2">20</text>
<line x1="333.4" y1="497.5" x2="338" y2="497.5" stroke="#000" stroke-width="1.5"/>
<text x="330.4" y="500.19" font-size="7.5" font-weight="bold" font-style="normal" text-anchor="end"  stroke="#000" stroke-width="0.2">0</text>
<line x1="334" y1="497.5" x2="403" y2="497.5" stroke="#000" stroke-width="1.5"/>
<rect x="340.65" y="413" width="10.45" height="84.5" fill="#2219f4" stroke="#000" stroke-width="1.4"/>
<rect x="356.95" y="425.1" width="11.05" height="72.4" fill="url(#hatch)" stroke="#000" stroke-width="1.4"/>
<rect x="373.65" y="461.2" width="10.55" height="36.3" fill="#cf0303" stroke="#000" stroke-width="1.4"/>
<rect x="389.75" y="433.7" width="10.75" height="63.8" fill="#dc7d1e" stroke="#000" stroke-width="1.4"/>
<line x1="346" y1="404.5" x2="346" y2="412.3" stroke="#000" stroke-width="1.35"/>
<line x1="342.7" y1="404.5" x2="349.3" y2="404.5" stroke="#000" stroke-width="1.35"/>
<line x1="362.6" y1="415.4" x2="362.6" y2="424.4" stroke="#000" stroke-width="1.35"/>
<line x1="359.3" y1="415.4" x2="365.9" y2="415.4" stroke="#000" stroke-width="1.35"/>
<line x1="379" y1="458.4" x2="379" y2="460.5" stroke="#000" stroke-width="1.35"/>
<line x1="375.7" y1="458.4" x2="382.3" y2="458.4" stroke="#000" stroke-width="1.35"/>
<line x1="395.2" y1="420.8" x2="395.2" y2="433" stroke="#000" stroke-width="1.35"/>
<line x1="391.9" y1="420.8" x2="398.5" y2="420.8" stroke="#000" stroke-width="1.35"/>
<polyline points="346,398 346,388.6 377.4,388.6 377.4,451.6" fill="none" stroke="#000" stroke-width="1.6" stroke-linejoin="miter" stroke-linecap="butt"/>
<polyline points="381,451.6 381,407.4 394.5,407.4 394.5,416" fill="none" stroke="#000" stroke-width="1.6" stroke-linejoin="miter" stroke-linecap="butt"/>
<text x="361.9" y="388.68" font-size="15" text-anchor="middle" stroke="#000" stroke-width="0.45">*</text>
<text x="387.5" y="407.68" font-size="15" text-anchor="middle" stroke="#000" stroke-width="0.45">*</text>
<text x="468.5" y="374.4" font-size="12" font-weight="bold" font-style="normal" text-anchor="middle" >MIP-1a</text>
<line x1="433" y1="388.45" x2="433" y2="497.65" stroke="#000" stroke-width="1.5"/>
<line x1="428.4" y1="389.2" x2="433" y2="389.2" stroke="#000" stroke-width="1.5"/>
<text x="425.5" y="392.15" font-size="8.8" font-weight="bold" font-style="normal" text-anchor="end"  stroke="#000" stroke-width="0.2">80</text>
<line x1="428.4" y1="416" x2="433" y2="416" stroke="#000" stroke-width="1.5"/>
<text x="425.5" y="418.95" font-size="8.8" font-weight="bold" font-style="normal" text-anchor="end"  stroke="#000" stroke-width="0.2">60</text>
<line x1="428.4" y1="443" x2="433" y2="443" stroke="#000" stroke-width="1.5"/>
<text x="425.5" y="445.95" font-size="8.8" font-weight="bold" font-style="normal" text-anchor="end"  stroke="#000" stroke-width="0.2">40</text>
<line x1="428.4" y1="469.8" x2="433" y2="469.8" stroke="#000" stroke-width="1.5"/>
<text x="425.5" y="472.75" font-size="8.8" font-weight="bold" font-style="normal" text-anchor="end"  stroke="#000" stroke-width="0.2">20</text>
<line x1="428.4" y1="496.9" x2="433" y2="496.9" stroke="#000" stroke-width="1.5"/>
<text x="425.5" y="499.85" font-size="8.8" font-weight="bold" font-style="normal" text-anchor="end"  stroke="#000" stroke-width="0.2">0</text>
<line x1="428.8" y1="496.9" x2="504.4" y2="496.9" stroke="#000" stroke-width="1.5"/>
<rect x="435.75" y="425.4" width="12.05" height="71.5" fill="#2219f4" stroke="#000" stroke-width="1.4"/>
<rect x="453.75" y="420.6" width="12.45" height="76.3" fill="url(#hatch)" stroke="#000" stroke-width="1.4"/>
<rect x="471.95" y="445.6" width="11.65" height="51.3" fill="#cf0303" stroke="#000" stroke-width="1.4"/>
<rect x="489.95" y="435.6" width="11.65" height="61.3" fill="#dc7d1e" stroke="#000" stroke-width="1.4"/>
<line x1="442" y1="415.6" x2="442" y2="425.2" stroke="#000" stroke-width="1.35"/>
<line x1="438.7" y1="415.6" x2="445.3" y2="415.6" stroke="#000" stroke-width="1.35"/>
<line x1="460" y1="411.4" x2="460" y2="420.4" stroke="#000" stroke-width="1.35"/>
<line x1="456.7" y1="411.4" x2="463.3" y2="411.4" stroke="#000" stroke-width="1.35"/>
<line x1="478" y1="443" x2="478" y2="445.4" stroke="#000" stroke-width="1.35"/>
<line x1="474.7" y1="443" x2="481.3" y2="443" stroke="#000" stroke-width="1.35"/>
<line x1="495.6" y1="424.3" x2="495.6" y2="435.4" stroke="#000" stroke-width="1.35"/>
<line x1="492.3" y1="424.3" x2="498.9" y2="424.3" stroke="#000" stroke-width="1.35"/>
<text x="570.5" y="374.4" font-size="12" font-weight="bold" font-style="normal" text-anchor="middle" >MIP-1b</text>
<line x1="536" y1="388.45" x2="536" y2="497.15" stroke="#000" stroke-width="1.5"/>
<line x1="531.4" y1="389.2" x2="536" y2="389.2" stroke="#000" stroke-width="1.5"/>
<text x="528.1" y="392.04" font-size="8.5" font-weight="bold" font-style="normal" text-anchor="end"  stroke="#000" stroke-width="0.2">60</text>
<line x1="531.4" y1="425" x2="536" y2="425" stroke="#000" stroke-width="1.5"/>
<text x="528.1" y="427.84" font-size="8.5" font-weight="bold" font-style="normal" text-anchor="end"  stroke="#000" stroke-width="0.2">40</text>
<line x1="531.4" y1="460.5" x2="536" y2="460.5" stroke="#000" stroke-width="1.5"/>
<text x="528.1" y="463.34" font-size="8.5" font-weight="bold" font-style="normal" text-anchor="end"  stroke="#000" stroke-width="0.2">20</text>
<line x1="531.4" y1="496.4" x2="536" y2="496.4" stroke="#000" stroke-width="1.5"/>
<text x="528.1" y="499.24" font-size="8.5" font-weight="bold" font-style="normal" text-anchor="end"  stroke="#000" stroke-width="0.2">0</text>
<line x1="532" y1="496.4" x2="606.8" y2="496.4" stroke="#000" stroke-width="1.5"/>
<rect x="539.15" y="429.2" width="11.15" height="67.2" fill="#2219f4" stroke="#000" stroke-width="1.4"/>
<rect x="556.65" y="430.2" width="11.25" height="66.2" fill="url(#hatch)" stroke="#000" stroke-width="1.4"/>
<rect x="574.35" y="463.5" width="11.65" height="32.9" fill="#cf0303" stroke="#000" stroke-width="1.4"/>
<rect x="592.55" y="427.1" width="11.25" height="69.3" fill="#dc7d1e" stroke="#000" stroke-width="1.4"/>
<line x1="545" y1="416.4" x2="545" y2="428.5" stroke="#000" stroke-width="1.35"/>
<line x1="541.7" y1="416.4" x2="548.3" y2="416.4" stroke="#000" stroke-width="1.35"/>
<line x1="562.4" y1="414.6" x2="562.4" y2="429.5" stroke="#000" stroke-width="1.35"/>
<line x1="559.1" y1="414.6" x2="565.7" y2="414.6" stroke="#000" stroke-width="1.35"/>
<line x1="580.5" y1="457.2" x2="580.5" y2="462.8" stroke="#000" stroke-width="1.35"/>
<line x1="577.2" y1="457.2" x2="583.8" y2="457.2" stroke="#000" stroke-width="1.35"/>
<line x1="598.3" y1="409.6" x2="598.3" y2="426.4" stroke="#000" stroke-width="1.35"/>
<line x1="595" y1="409.6" x2="601.6" y2="409.6" stroke="#000" stroke-width="1.35"/>
<polyline points="545.2,410.6 545.2,397.1 578.8,397.1 578.8,450.2" fill="none" stroke="#000" stroke-width="1.6" stroke-linejoin="miter" stroke-linecap="butt"/>
<polyline points="582.3,450.2 582.3,396.4 599,396.4 599,403" fill="none" stroke="#000" stroke-width="1.6" stroke-linejoin="miter" stroke-linecap="butt"/>
<text x="563.2" y="396.68" font-size="15" text-anchor="middle" stroke="#000" stroke-width="0.45">*</text>
<text x="590.5" y="396.68" font-size="15" text-anchor="middle" stroke="#000" stroke-width="0.45">*</text>
<rect x="620.95" y="386.3" width="11.4" height="8.4" fill="#2219f4" stroke="#000" stroke-width="1.5"/>
<text x="639" y="395.3" font-size="12" font-weight="normal" font-style="normal" text-anchor="start" letter-spacing="0.22">WT Air / Flu</text>
<rect x="620.95" y="400.3" width="11.4" height="9" fill="url(#hatch)" stroke="#000" stroke-width="1.5"/>
<text x="639" y="409.9" font-size="12" font-weight="normal" font-style="normal" text-anchor="start" letter-spacing="0.22"><tspan font-style="italic">Tcγδ</tspan><tspan font-size="8.4" dy="-4" dx="0.6">−/−</tspan><tspan dy="4" dx="0.6"> Air / Flu</tspan></text>
<rect x="620.95" y="415" width="11.4" height="7.7" fill="#cf0303" stroke="#000" stroke-width="1.5"/>
<text x="639" y="423.3" font-size="12" font-weight="normal" font-style="normal" text-anchor="start" letter-spacing="0.22">WT Smk / Flu</text>
<rect x="620.95" y="428.8" width="11.4" height="8.4" fill="#dc7d1e" stroke="#000" stroke-width="1.5"/>
<text x="639" y="437.8" font-size="12" font-weight="normal" font-style="normal" text-anchor="start" letter-spacing="0.22"><tspan font-style="italic">Tcγδ</tspan><tspan font-size="8.4" dy="-4" dx="0.6">−/−</tspan><tspan dy="4" dx="0.6"> Smk / Flu</tspan></text>
</svg>
</body></html>
